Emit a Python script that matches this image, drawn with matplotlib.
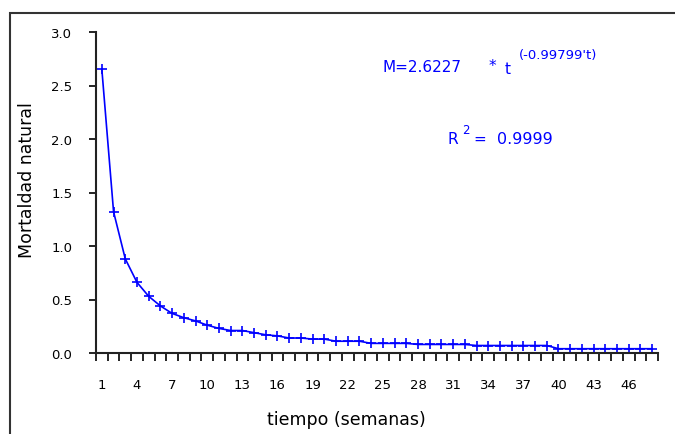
import matplotlib
matplotlib.use('Agg')
import matplotlib.pyplot as plt
from matplotlib.patches import Rectangle

plt.rcParams['font.family'] = ['DejaVu Sans']

# datos (semana -> mortalidad natural)
semanas = list(range(1, 49))
mortalidad = [2.65, 1.32, 0.88, 0.66, 0.53, 0.44, 0.37, 0.33, 0.30, 0.26,
              0.23, 0.21, 0.21, 0.19, 0.17, 0.16, 0.14, 0.14, 0.13, 0.13,
              0.11, 0.11, 0.11, 0.09, 0.09, 0.09, 0.09, 0.08, 0.08, 0.08,
              0.08, 0.08, 0.07, 0.07, 0.07, 0.07, 0.07, 0.07, 0.07, 0.04,
              0.04, 0.04, 0.04, 0.04, 0.04, 0.04, 0.04, 0.04]
etiquetas_x = list(range(1, 49, 3))
ticks_y = [0.0, 0.5, 1.0, 1.5, 2.0, 2.5, 3.0]

W, H = 675, 435
fig = plt.figure(figsize=(W / 100, H / 100), dpi=100)
ax = fig.add_axes([96 / W, 1 - 354 / H, (658 - 96) / W, (354 - 33) / H])

ax.plot(semanas, mortalidad, color='#0000ff', lw=1.2, marker='+',
        markersize=6.5, markeredgewidth=1.2)

ax.set_xlim(0.5, len(semanas) + 0.5)
ax.set_ylim(0, 3.0)

# eje x: marcas entre categorías, etiquetas cada 3 semanas
ax.set_xticks(etiquetas_x)
ax.set_xticklabels([str(v) for v in etiquetas_x])
ax.set_xticks([s + 0.5 for s in [0] + semanas], minor=True)
ax.tick_params(axis='x', which='major', length=0, pad=18, labelsize=9.5)
ax.tick_params(axis='x', which='minor', length=6, width=1.2, direction='out')

ax.set_yticks(ticks_y)
ax.set_yticklabels([f'{v:.1f}' for v in ticks_y])
ax.tick_params(axis='y', length=5, width=1.2, pad=12, labelsize=9.5)

for s in ['top', 'right']:
    ax.spines[s].set_visible(False)
for s in ['left', 'bottom']:
    ax.spines[s].set_linewidth(1.5)
    ax.spines[s].set_color('#222222')

fig.text(27 / W, 1 - 180 / H, 'Mortaldad natural', fontsize=12.5,
         rotation=90, ha='center', va='center')
fig.text(346 / W, 1 - 420 / H, 'tiempo (semanas)', fontsize=12.5,
         ha='center', va='center')

# ecuación del ajuste
azul = '#0000ff'
fig.text(383 / W, 1 - 68 / H, 'M=2.6227', color=azul, fontsize=11,
         ha='left', va='center')
fig.text(489 / W, 1 - 66 / H, '*', color=azul, fontsize=11,
         ha='left', va='center')
fig.text(505 / W, 1 - 70 / H, 't', color=azul, fontsize=11,
         ha='left', va='center')
fig.text(519 / W, 1 - 56 / H, "(-0.99799't)", color=azul, fontsize=9.5,
         ha='left', va='center')
fig.text(447 / W, 1 - 139 / H, 'R', color=azul, fontsize=11,
         ha='left', va='center')
fig.text(462 / W, 1 - 130 / H, '2', color=azul, fontsize=8.5,
         ha='left', va='center')
fig.text(473 / W, 1 - 139 / H, '=', color=azul, fontsize=11,
         ha='left', va='center')
fig.text(497 / W, 1 - 139 / H, '0.9999', color=azul, fontsize=11.5,
         ha='left', va='center')

# marco exterior del área del gráfico
fig.patches.append(Rectangle((10 / W, -0.1), 2, 1.1 - 14 / H,
                             transform=fig.transFigure, fill=False,
                             edgecolor='#333333', lw=1.5))

fig.savefig('out.png', dpi=100)
